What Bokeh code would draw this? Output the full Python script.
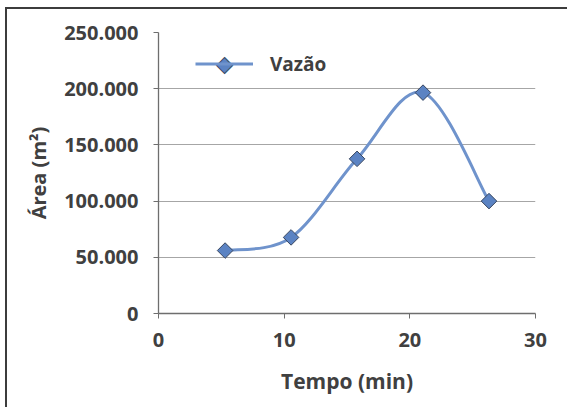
import math
from bokeh.plotting import figure
from bokeh.embed import file_html
from bokeh.resources import INLINE
from bokeh.models import FixedTicker, Range1d, Legend, LegendItem, ColumnDataSource, Label

# data
tempo = [5.3, 10.55, 15.8, 21.05, 26.3]
area = [56000, 67700, 137600, 196500, 100000]
serie = "Vazão"
x_ticks = [0, 10, 20, 30]
y_ticks = [0, 50000, 100000, 150000, 200000, 250000]
y_tick_labels = ["0", "50.000", "100.000", "150.000", "200.000", "250.000"]
x_title = "Tempo (min)"
y_title = "Área (m²)"

# smooth curve (Excel-like Catmull-Rom bezier through the points)
n = len(tempo)
x0s, y0s, x1s, y1s, cx0, cy0, cx1, cy1 = [], [], [], [], [], [], [], []
for i in range(n - 1):
    pa = (tempo[max(i - 1, 0)], area[max(i - 1, 0)])
    p1 = (tempo[i], area[i])
    p2 = (tempo[i + 1], area[i + 1])
    pb = (tempo[min(i + 2, n - 1)], area[min(i + 2, n - 1)])
    x0s.append(p1[0]); y0s.append(p1[1])
    x1s.append(p2[0]); y1s.append(p2[1])
    cx0.append(p1[0] + (p2[0] - pa[0]) / 6); cy0.append(p1[1] + (p2[1] - pa[1]) / 6)
    cx1.append(p2[0] - (pb[0] - p1[0]) / 6); cy1.append(p2[1] - (pb[1] - p1[1]) / 6)

FONT = "Open Sans"
TXT = "#404040"
BLUE = "#6f93cc"
MFILL = "#5b83c3"
MLINE = "#38465f"

p = figure(width=562, height=400, output_backend="svg", toolbar_location=None,
           x_range=Range1d(0, 30), y_range=Range1d(0, 250000),
           min_border_left=151, min_border_right=34, min_border_top=23, min_border_bottom=96)
p.margin = (7, 0, 0, 5)
p.styles = {"border-top": "2px solid #3c3c3c", "border-left": "2px solid #3c3c3c"}
p.outline_line_color = None
p.background_fill_color = "white"
p.border_fill_color = "white"

p.xgrid.grid_line_color = None
p.ygrid.grid_line_color = "#a6a6a6"
p.ygrid.grid_line_width = 1.2

p.xaxis.ticker = FixedTicker(ticks=x_ticks)
p.yaxis.ticker = FixedTicker(ticks=y_ticks)
p.yaxis.major_label_overrides = {t: l for t, l in zip(y_ticks, y_tick_labels)}
p.xaxis.major_label_overrides = {t: str(t) for t in x_ticks}
for ax in (p.xaxis, p.yaxis):
    ax.axis_line_color = "#6e6e6e"
    ax.axis_line_width = 1.3
    ax.major_tick_line_color = "#6e6e6e"
    ax.major_tick_in = 0
    ax.major_tick_out = 5
    ax.minor_tick_line_color = None
    ax.major_label_text_font = FONT
    ax.major_label_text_font_style = "bold"
    ax.major_label_text_font_size = "20px"
    ax.major_label_text_color = TXT
    ax.axis_label_text_font = FONT
    ax.axis_label_text_font_style = "bold"
    ax.axis_label_text_color = TXT
p.xaxis.axis_label_text_font_size = "21px"
p.yaxis.axis_label_text_font_size = "20px"
p.xaxis.major_label_standoff = 14
p.yaxis.major_label_standoff = 15
p.xaxis.axis_label = x_title
p.yaxis.axis_label = y_title
p.xaxis.axis_label_standoff = 17
p.yaxis.axis_label_standoff = 9

curve = p.bezier(x0=x0s, y0=y0s, x1=x1s, y1=y1s, cx0=cx0, cy0=cy0, cx1=cx1, cy1=cy1,
                 line_color=BLUE, line_width=3)
leg_line = p.line(x=tempo, y=area, line_color=BLUE, line_width=3, visible=False)
src = ColumnDataSource(dict(x=tempo, y=area, ang=[math.pi / 4] * len(tempo)))
pts = p.scatter(x="x", y="y", source=src, marker="square", size=11, angle="ang",
                fill_color=MFILL, line_color=MLINE, line_width=1)

LEG_X, LEG_Y, GW, GH = 37, 236, 58, 27
legend = Legend(items=[LegendItem(label=serie, renderers=[leg_line])],
                location=(LEG_X, LEG_Y), border_line_color=None, background_fill_alpha=0,
                label_text_font=FONT, label_text_font_style="bold", label_text_font_size="19px",
                label_text_color=TXT, glyph_width=GW, glyph_height=GH, label_standoff=17,
                padding=0, margin=0)
p.add_layout(legend)

# legend marker: a rotated-square (diamond) symbol at the centre of the legend glyph
mark = Label(x=LEG_X + GW / 2, y=LEG_Y + GH / 2, x_units="screen", y_units="screen",
             text="\u25c6", text_font=value_font if False else "DejaVu Sans",
             text_font_size="21px", text_color=MFILL, text_align="center",
             text_baseline="middle", text_outline_color=MLINE)
p.add_layout(mark)

open("out.html", "w").write(file_html(p, INLINE))
